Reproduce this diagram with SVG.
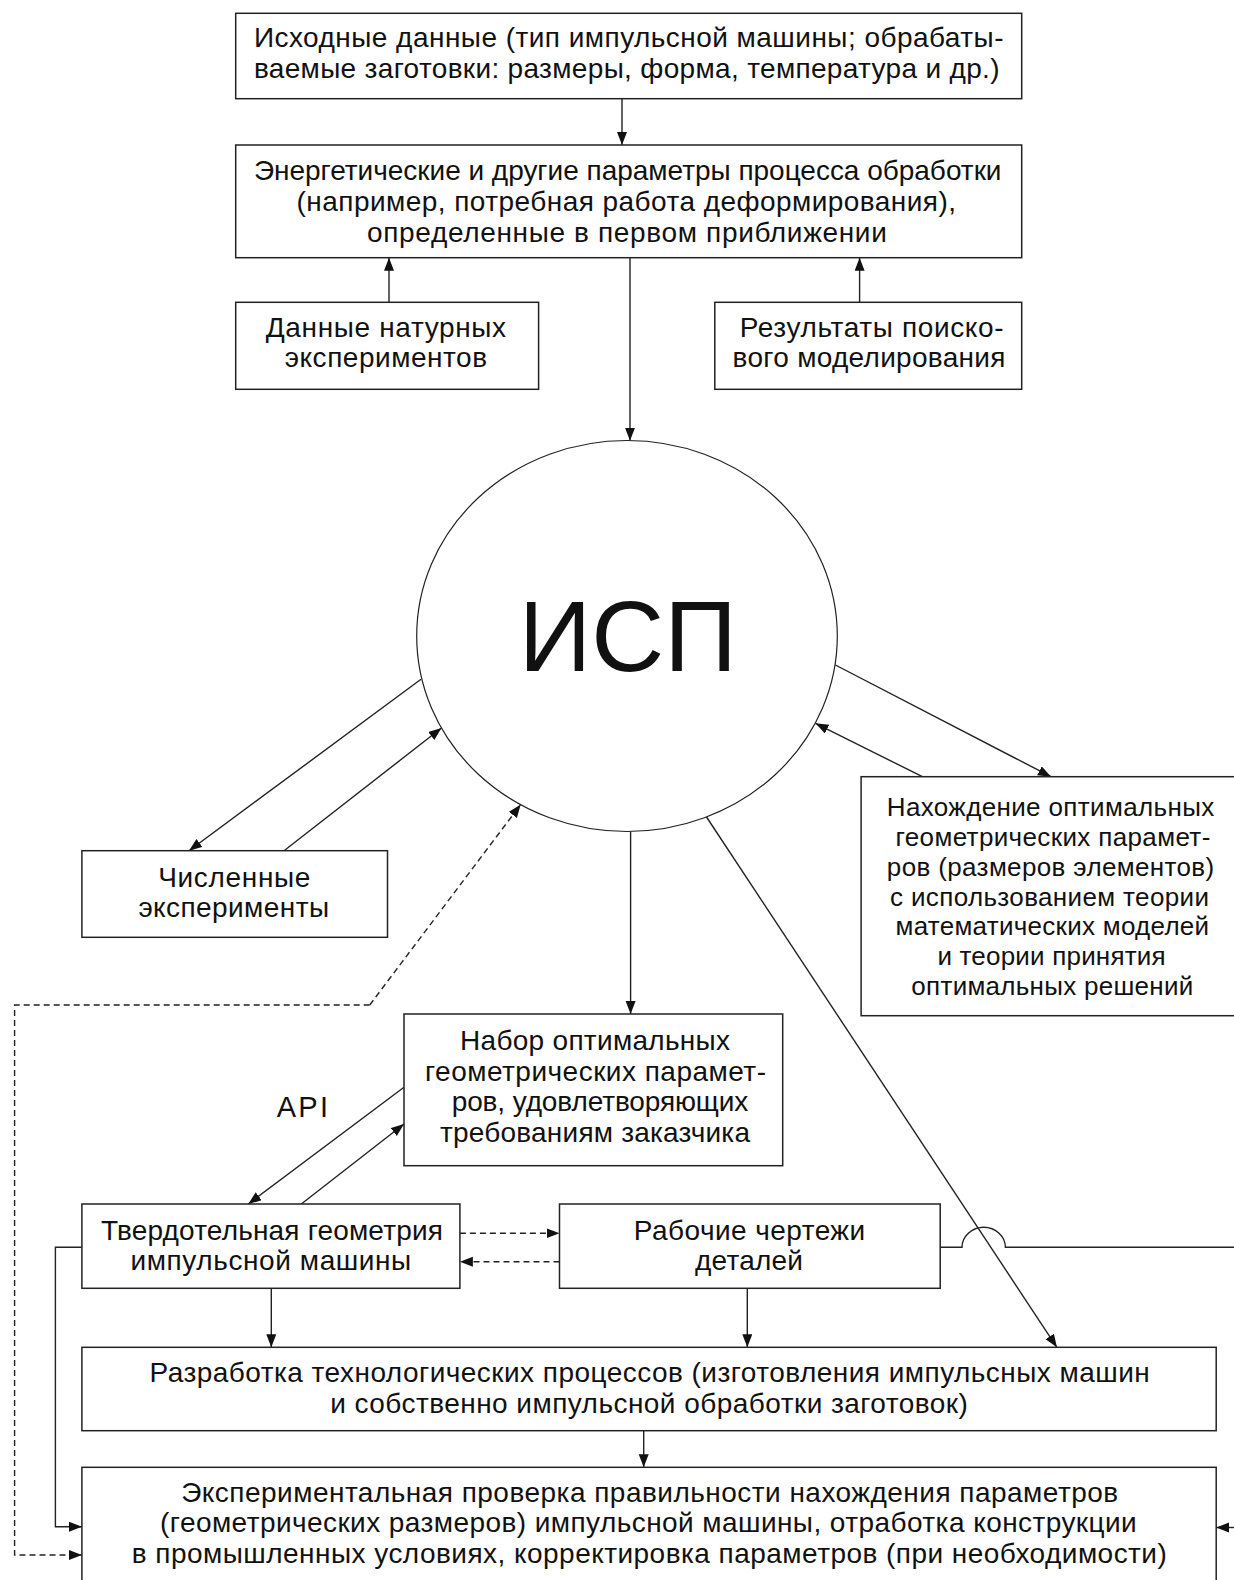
<svg xmlns="http://www.w3.org/2000/svg" width="1234" height="1580" viewBox="0 0 1234 1580">
<style>
.box{fill:#fff;stroke:#222;stroke-width:1.5}
.t{font-family:"Liberation Sans",Arial,sans-serif;font-size:28px;fill:#111;text-anchor:middle}
.ts{font-size:26px}
.c{fill:none;stroke:#222;stroke-width:1.4}
.d{fill:none;stroke:#222;stroke-width:1.4;stroke-dasharray:6 4}
</style>
<defs>
<marker id="a" markerUnits="userSpaceOnUse" markerWidth="14" markerHeight="12" refX="13" refY="5" orient="auto">
<path d="M0,0 L13,5 L0,10 z" fill="#111"/>
</marker>
</defs>
<rect width="1234" height="1580" fill="#fff"/>
<g id="connectors">
<line class="c" x1="622" y1="98.7" x2="622" y2="145" marker-end="url(#a)"/>
<line class="c" x1="389" y1="302.3" x2="389" y2="257.7" marker-end="url(#a)"/>
<line class="c" x1="859.6" y1="302.3" x2="859.6" y2="257.7" marker-end="url(#a)"/>
<line class="c" x1="630" y1="257.7" x2="630" y2="440.7" marker-end="url(#a)"/>
<line class="c" x1="421" y1="679.3" x2="189" y2="850.7" marker-end="url(#a)"/>
<line class="c" x1="284" y1="850.7" x2="441.5" y2="728" marker-end="url(#a)"/>
<path class="d" d="M369.7,1005 L520.7,804.5" marker-end="url(#a)"/>
<path class="d" d="M369.7,1005 H14.6 V1555 H81.9" marker-end="url(#a)"/>
<line class="c" x1="835.4" y1="665" x2="1051" y2="776.7" marker-end="url(#a)"/>
<line class="c" x1="922.4" y1="776.7" x2="815.5" y2="723.3" marker-end="url(#a)"/>
<line class="c" x1="630.6" y1="831.7" x2="630.6" y2="1014" marker-end="url(#a)"/>
<line class="c" x1="706.5" y1="817" x2="1056.9" y2="1347.3" marker-end="url(#a)"/>
<line class="c" x1="404" y1="1087.3" x2="248.3" y2="1204" marker-end="url(#a)"/>
<line class="c" x1="301.3" y1="1204" x2="404" y2="1124" marker-end="url(#a)"/>
<line class="d" x1="459.9" y1="1233.3" x2="559.5" y2="1233.3" marker-end="url(#a)"/>
<line class="d" x1="559.5" y1="1261.7" x2="459.9" y2="1261.7" marker-end="url(#a)"/>
<path class="c" d="M940.2,1247.3 H962 A21.7 20 0 0 1 1005.4,1247.3 H1240"/>
<line class="c" x1="1240" y1="1527.5" x2="1216.2" y2="1527.5" marker-end="url(#a)"/>
<line class="c" x1="271.3" y1="1288.3" x2="271.3" y2="1347.3" marker-end="url(#a)"/>
<line class="c" x1="747.3" y1="1288.3" x2="747.3" y2="1347.3" marker-end="url(#a)"/>
<line class="c" x1="643.7" y1="1430.7" x2="643.7" y2="1467.3" marker-end="url(#a)"/>
<path class="c" d="M81.9,1247.3 H55.4 V1526.7 H81.9" marker-end="url(#a)"/>
</g>
<g id="n-top">
<rect class="box" x="235.7" y="13.3" width="786" height="85.4"/>
<text class="t" x="253.9" y="46.5" style="text-anchor:start" textLength="749.6" lengthAdjust="spacing">Исходные данные (тип импульсной машины; обрабаты-</text>
<text class="t" x="253.9" y="78" style="text-anchor:start" textLength="745.6" lengthAdjust="spacing">ваемые заготовки: размеры, форма, температура и др.)</text>
</g>
<g id="n-energy">
<rect class="box" x="235.7" y="145" width="786" height="112.7"/>
<text class="t" x="627.7" y="180" textLength="747.6" lengthAdjust="spacing">Энергетические и другие параметры процесса обработки</text>
<text class="t" x="626.3" y="211" textLength="659.4" lengthAdjust="spacing">(например, потребная работа деформирования),</text>
<text class="t" x="626.9" y="242" textLength="519.8" lengthAdjust="spacing">определенные в первом приближении</text>
</g>
<g id="n-natur">
<rect class="box" x="235.7" y="302.3" width="302.9" height="87"/>
<text class="t" x="385.9" y="337" textLength="240.4" lengthAdjust="spacing">Данные натурных</text>
<text class="t" x="385.9" y="367" textLength="202.4" lengthAdjust="spacing">экспериментов</text>
</g>
<g id="n-poisk">
<rect class="box" x="714.8" y="302.3" width="306.9" height="87"/>
<text class="t" x="871.6" y="337" textLength="263.8" lengthAdjust="spacing">Результаты поиско-</text>
<text class="t" x="869" y="367" textLength="272.9" lengthAdjust="spacing">вого моделирования</text>
</g>
<g id="n-isp">
<ellipse cx="627" cy="636" rx="210.3" ry="195.5" fill="#fff" stroke="#222" stroke-width="1.2"/>
<text class="t" x="627.8" y="671" style="font-size:101px">ИСП</text>
</g>
<g id="n-chisl">
<rect class="box" x="81.9" y="850.7" width="305.6" height="86.6"/>
<text class="t" x="234.3" y="886.7" textLength="152.2" lengthAdjust="spacing">Численные</text>
<text class="t" x="233.7" y="917.3" textLength="190.6" lengthAdjust="spacing">эксперименты</text>
</g>
<g id="n-nakh">
<rect class="box" x="861.1" y="776.7" width="385" height="239"/>
<text class="t ts" x="1050.5" y="816" textLength="327.4" lengthAdjust="spacing">Нахождение оптимальных</text>
<text class="t ts" x="1052.9" y="846" textLength="314.8" lengthAdjust="spacing">геометрических парамет-</text>
<text class="t ts" x="1050.5" y="875.5" textLength="327.4" lengthAdjust="spacing">ров (размеров элементов)</text>
<text class="t ts" x="1049.5" y="905.5" textLength="319" lengthAdjust="spacing">с использованием теории</text>
<text class="t ts" x="1052.3" y="935" textLength="313.6" lengthAdjust="spacing">математических моделей</text>
<text class="t ts" x="1051.5" y="965" textLength="228.2" lengthAdjust="spacing">и теории принятия</text>
<text class="t ts" x="1052.3" y="994.5" textLength="281.9" lengthAdjust="spacing">оптимальных решений</text>
</g>
<g id="n-nabor">
<rect class="box" x="404" y="1014" width="378.7" height="151.7"/>
<text class="t" x="595" y="1050" textLength="270" lengthAdjust="spacing">Набор оптимальных</text>
<text class="t" x="595.5" y="1080.5" textLength="341" lengthAdjust="spacing">геометрических парамет-</text>
<text class="t" x="600" y="1111" textLength="296.6" lengthAdjust="spacing">ров, удовлетворяющих</text>
<text class="t" x="595" y="1141.5" textLength="310" lengthAdjust="spacing">требованиям заказчика</text>
</g>
<g id="l-api">
<text class="t" x="302.4" y="1116.7" style="font-size:29px" textLength="51.2" lengthAdjust="spacing">API</text>
</g>
<g id="n-tverd">
<rect class="box" x="81.9" y="1204" width="378" height="84.3"/>
<text class="t" x="271.9" y="1240" textLength="342" lengthAdjust="spacing">Твердотельная геометрия</text>
<text class="t" x="270.9" y="1269.5" textLength="280.7" lengthAdjust="spacing">импульсной машины</text>
</g>
<g id="n-rab">
<rect class="box" x="559.5" y="1204" width="380.7" height="84.3"/>
<text class="t" x="749.5" y="1240" textLength="231.3" lengthAdjust="spacing">Рабочие чертежи</text>
<text class="t" x="749" y="1269.5" textLength="108" lengthAdjust="spacing">деталей</text>
</g>
<g id="n-razr">
<rect class="box" x="81.9" y="1347.3" width="1134.3" height="83.4"/>
<text class="t" x="649.6" y="1381.7" textLength="1000.3" lengthAdjust="spacing">Разработка технологических процессов (изготовления импульсных машин</text>
<text class="t" x="649" y="1413" textLength="637.7" lengthAdjust="spacing">и собственно импульсной обработки заготовок)</text>
</g>
<g id="n-exp">
<rect class="box" x="81.9" y="1467.3" width="1134.3" height="130"/>
<text class="t" x="649.7" y="1501.7" textLength="937" lengthAdjust="spacing">Экспериментальная проверка правильности нахождения параметров</text>
<text class="t" x="648.4" y="1532" textLength="976.6" lengthAdjust="spacing">(геометрических размеров) импульсной машины, отработка конструкции</text>
<text class="t" x="649.3" y="1563" textLength="1035" lengthAdjust="spacing">в промышленных условиях, корректировка параметров (при необходимости)</text>
</g>
</svg>
